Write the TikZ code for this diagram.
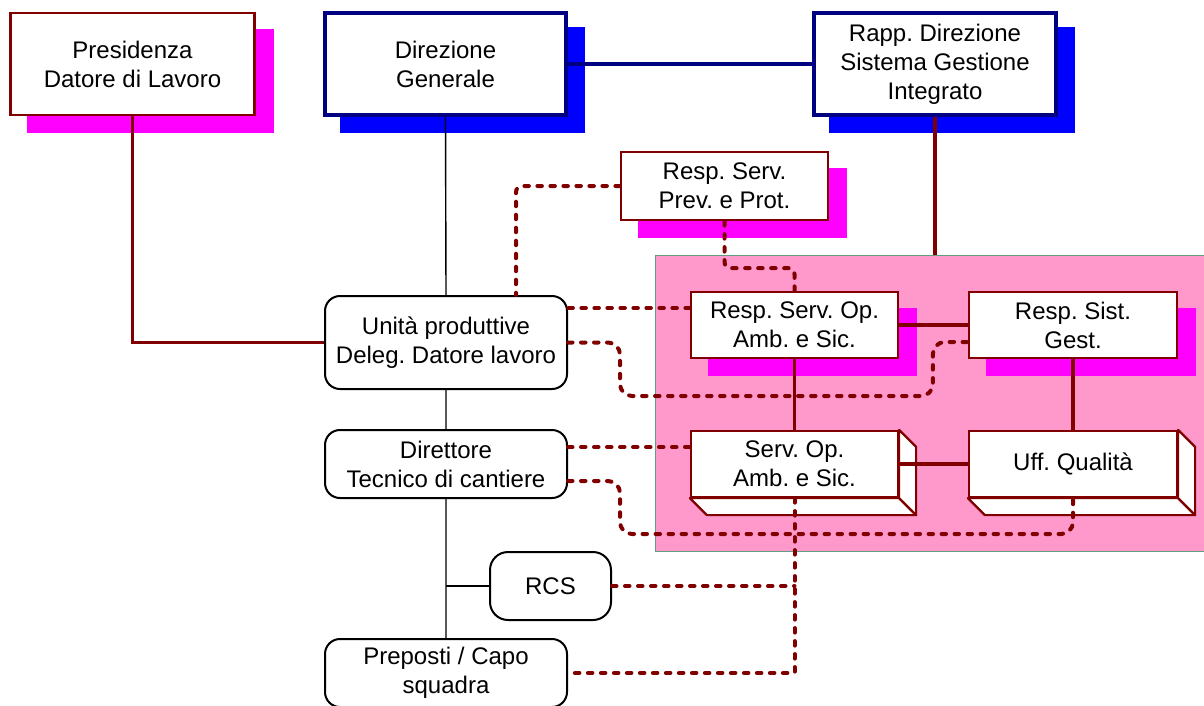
\documentclass[tikz,border=0pt]{standalone}
\usepackage{fontspec}
\setmainfont{Liberation Sans}
\usetikzlibrary{calc}

\definecolor{linered}{HTML}{800000}
\definecolor{navyline}{HTML}{000080}
\definecolor{shadeblue}{HTML}{0000FF}
\definecolor{shademag}{HTML}{FF00FF}
\definecolor{zonepink}{HTML}{FF99CC}
\definecolor{zoneedge}{HTML}{5F9F80}

\pgfdeclarelayer{zone}
\pgfdeclarelayer{shade}
\pgfsetlayers{zone,shade,main}

\begin{document}
\frenchspacing
\begin{tikzpicture}[x=1pt,y=-1pt,
  txt/.style={font=\fontsize{24}{29}\selectfont, align=center, text=black, inner sep=0pt},
  redbox/.style={txt, draw=linered, line width=2.2pt, fill=white},
  navybox/.style={txt, draw=navyline, line width=4.5pt, fill=white},
  softbox/.style={txt, draw=black, line width=2pt, fill=white, rounded corners=15pt},
  trunk/.style={draw=black, line width=1.4pt},
  boss/.style={draw=navyline, line width=3.2pt},
  solidlink/.style={draw=linered, line width=3.6pt},
  dotlink/.style={draw=linered, line width=4pt, line cap=round,
                  dash pattern=on 4.5pt off 8.5pt, rounded corners=6pt},
  bigbox/.style={minimum width=244pt, minimum height=102pt},
  midbox/.style={minimum width=207pt, minimum height=66pt}
]
\useasboundingbox (0,0) rectangle (1204,705);

% pink area holding the operative services
\begin{pgfonlayer}{zone}
  \node[draw=zoneedge, fill=zonepink, line width=1pt, inner sep=0pt,
        minimum width=550pt, minimum height=296pt] (zone) at (930,403) {};
\end{pgfonlayer}

% top level
\node[redbox, bigbox] (pres) at (132.5,64) {Presidenza\\Datore di Lavoro};
\node[navybox, minimum width=241pt, minimum height=102pt] (dg) at (445.5,64) {Direzione\\Generale};
\node[navybox, minimum width=242pt, minimum height=102pt] (rapp) at (935,64) {Rapp. Direzione\\Sistema Gestione\\Integrato};

% safety / management offices
\node[redbox, midbox, minimum height=68pt] (prev) at (724.5,186) {Resp. Serv.\\Prev. e Prot.};
\node[redbox, midbox] (rso) at (794.5,325) {Resp. Serv. Op.\\Amb. e Sic.};
\node[redbox, midbox, minimum width=208pt] (rsg) at (1073,325) {Resp. Sist.\\Gest.};
\node[redbox, midbox] (servop) at (794.5,464) {Serv. Op.\\Amb. e Sic.};
\node[redbox, midbox, minimum width=208pt] (uff) at (1073,464) {Uff. Qualità};

% production line
\node[softbox, minimum width=242pt, minimum height=93pt] (unita) at (446,342.5) {Unità produttive\\Deleg. Datore lavoro};
\node[softbox, minimum width=242pt, minimum height=68pt] (dir) at (446,464) {Direttore\\Tecnico di cantiere};
\node[softbox, minimum width=121pt, minimum height=68pt, rounded corners=18pt] (rcs) at (550.5,586) {RCS};
\node[softbox, minimum width=242pt, minimum height=68pt] (prep) at (446,673) {Preposti / Capo\\squadra};

% drop shadows
\begin{pgfonlayer}{shade}
  \foreach \n in {pres,prev,rso,rsg}
    \fill[shademag] ([shift={(18,17)}]\n.north west) rectangle ([shift={(18,17)}]\n.south east);
  \foreach \n in {dg,rapp}
    \fill[shadeblue] ([shift={(17,16)}]\n.north west) rectangle ([shift={(17,16)}]\n.south east);
\end{pgfonlayer}

% 3D depth of the two service boxes
\foreach \n in {servop,uff} {
  \filldraw[fill=white, draw=linered, line width=2.2pt, line join=round]
    (\n.south west) -- ([shift={(17,17)}]\n.south west)
    -- ([shift={(17,17)}]\n.south east) -- (\n.south east) -- cycle;
  \filldraw[fill=white, draw=linered, line width=2.2pt, line join=round]
    (\n.north east) -- ([shift={(17,17)}]\n.north east)
    -- ([shift={(17,17)}]\n.south east) -- (\n.south east) -- cycle;
}

% hierarchy lines
\draw[trunk] (dg.south) -- (unita.north) (unita.south) -- (dir.north) (dir.south) -- (prep.north);
\draw[trunk] (rcs.west) -- (rcs.west -| dir.south);
\draw[boss] (dg.east) -- (rapp.west);
\draw[solidlink] (pres.south) |- (unita.west);
\draw[solidlink] (rapp.south) -- (rapp.south |- zone.north);
\draw[solidlink] (rso.east) -- (rsg.west);
\draw[solidlink] (rso.south) -- (servop.north);
\draw[solidlink] (rsg.south) -- (uff.north);
\draw[solidlink] (servop.east) -- (uff.west);

% functional (dotted) links
\coordinate (a1) at ([xshift=70pt]unita.north);
\draw[dotlink] (prev.west) -| (a1);
\draw[dotlink] (prev.south) -- ++(0,47) -| (rso.north);

\coordinate (u1) at ([yshift=17pt]rso.west);
\draw[dotlink] (u1) -- (u1 -| unita.east);
\coordinate (u2) at ([yshift=-17pt]rsg.west);
\draw[dotlink, rounded corners=12pt] (unita.east) -- ++(52,0) -- ++(0,53.5) -| ([xshift=-35pt]u2) -- (u2);

\coordinate (t1) at ([yshift=17pt]dir.east);
\draw[dotlink] (t1) -- (t1 -| servop.west);
\coordinate (t2) at ([yshift=-17pt]dir.east);
\draw[dotlink, rounded corners=12pt] (t2) -- ++(52,0) -- ++(0,53) -| (uff.south);

\draw[dotlink, sharp corners] (servop.south) |- (prep.east);
\draw[dotlink] (rcs.east) -- (rcs.east -| servop.south);
\end{tikzpicture}
\end{document}
